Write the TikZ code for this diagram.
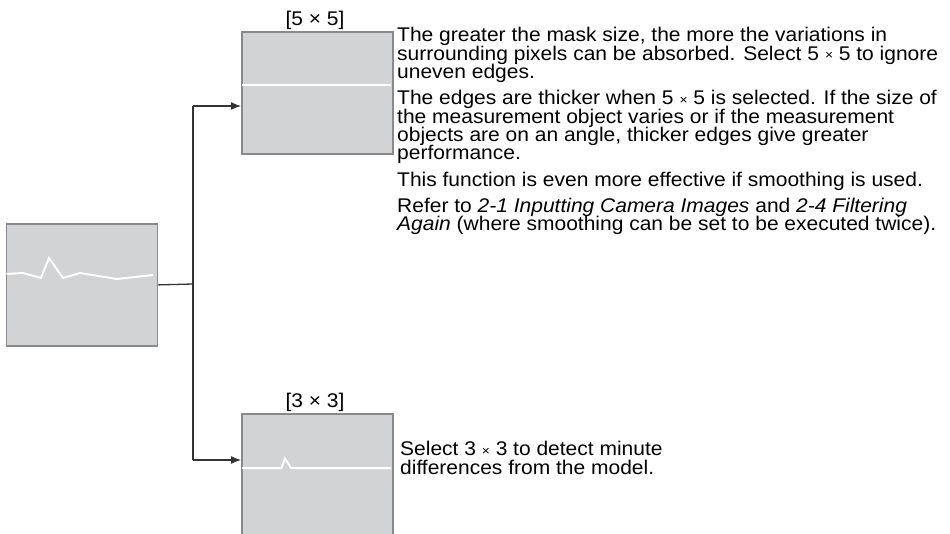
\documentclass[tikz,border=0pt]{standalone}
\usepackage{fontspec}
\setmainfont{Liberation Sans}[FakeStretch=1.06]
\usetikzlibrary{arrows.meta}
\newcommand\smx{{\fontsize{13}{13}\selectfont\raisebox{0.5pt}{×}}}
\begin{document}
\begin{tikzpicture}[x=1pt,y=-1pt,
  panel/.style={draw=boxgray,fill=boxfill,line width=1.8pt,inner sep=0pt,minimum width=151pt,minimum height=122pt,anchor=north west},
  wire/.style={draw=wirec,line width=1.3pt},
  arr/.style={wire,-{Latex[length=10pt,width=8pt]}},
  edge/.style={draw=white,line width=2pt},
  txt/.style={anchor=base west,inner sep=0pt,font=\fontsize{19.8}{18}\selectfont},
  lbl/.style={anchor=base,inner sep=0pt,font=\fontsize{19.8}{18}\selectfont}]
\definecolor{boxgray}{HTML}{8A8A8A}
\definecolor{boxfill}{HTML}{D2D3D5}
\definecolor{wirec}{HTML}{333333}
\useasboundingbox (0,0) rectangle (950,534);
\clip (0,0) rectangle (950,534);
% panels
\node[panel] (src) at (5.5,223) {};
\node[panel] (b5) at (241,31) {};
\node[panel,minimum height=140pt] (b3) at (241,413) {};
% edges in panels
\draw[edge] (6.5,274) -- (23,273) -- (41,278) -- (49,258) -- (63,278) -- (80,273) -- (117,279) -- (153,275);
\draw[edge] (242,85) -- (391,85);
\draw[edge] (242,468) -- (281.5,468) -- (285,458.5) -- (291,468) -- (391,468);
% labels
\node[lbl] (l5) at (315,25.5) {[5 × 5]};
\node[lbl] (l3) at (315,407.5) {[3 × 3]};
% connectors
\coordinate (jm) at (193,284);
\coordinate (jt) at (193,106);
\coordinate (jb) at (193,460);
\draw[wire] (src.east) -- (jm);
\draw[wire] (jt) -- (jb);
\draw[arr] (jt) -- (jt -| b5.west);
\draw[arr] (jb) -- (jb -| b3.west);
% text
\node[txt] (t1) at (397,42) {The greater the mask size, the more the variations in};
\node[txt] (t2) at (397,60.3) {surrounding pixels can be absorbed. Select 5 \smx\ 5 to ignore};
\node[txt] (t3) at (397,78.6) {uneven edges.};
\node[txt] (t4) at (397,104.9) {The edges are thicker when 5 \smx\ 5 is selected. If the size of};
\node[txt] (t5) at (397,123.2) {the measurement object varies or if the measurement};
\node[txt] (t6) at (397,141.5) {objects are on an angle, thicker edges give greater};
\node[txt] (t7) at (397,159.8) {performance.};
\node[txt] (t8) at (397,186.1) {This function is even more effective if smoothing is used.};
\node[txt] (t9) at (397,212.4) {Refer to \textit{2-1 Inputting Camera Images} and \textit{2-4 Filtering}};
\node[txt] (t10) at (397,230.7) {\textit{Again} (where smoothing can be set to be executed twice).};
\node[txt] (t11) at (400,455.5) {Select 3 \smx\ 3 to detect minute};
\node[txt] (t12) at (400,474) {differences from the model.};
\end{tikzpicture}
\end{document}
